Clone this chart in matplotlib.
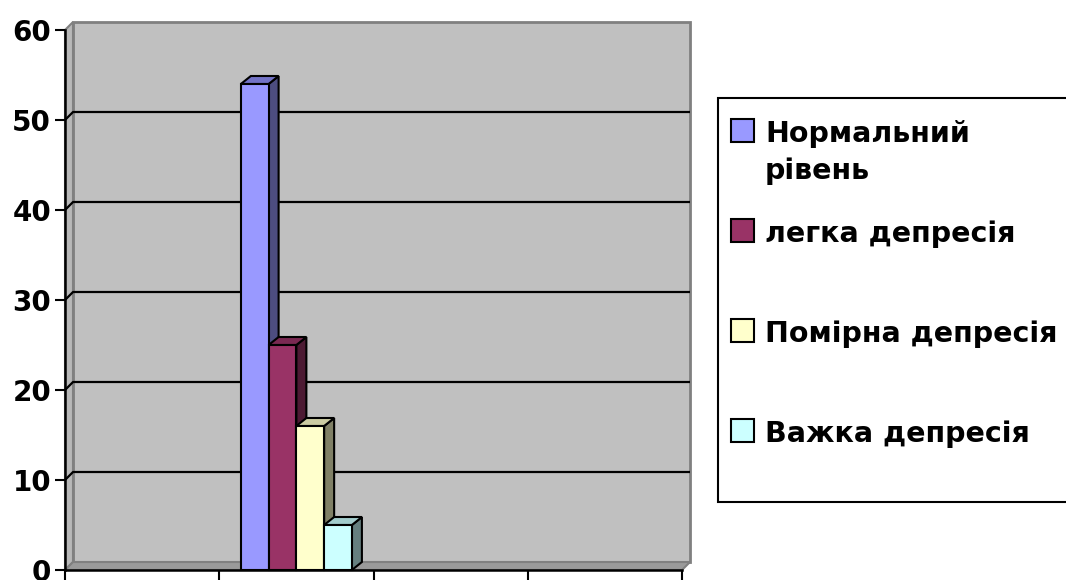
import textwrap
import matplotlib
matplotlib.use("Agg")
import matplotlib.pyplot as plt
from matplotlib.patches import Polygon, Rectangle

plt.rcParams['font.family'] = ['DejaVu Sans']

# ---- data ----
categories = ["", "", "", ""]
series_names = ["Нормальний рівень", "легка депресія", "Помірна депресія", "Важка депресія"]
normal_level = [None, 54, None, None]
mild_depression = [None, 25, None, None]
moderate_depression = [None, 16, None, None]
severe_depression = [None, 5, None, None]
y_ticks = [0, 10, 20, 30, 40, 50, 60]

series_values = [normal_level, mild_depression, moderate_depression, severe_depression]
front_colors = ["#9999FF", "#993366", "#FFFFCC", "#CCFFFF"]
side_colors = ["#4D4D80", "#4D1A33", "#808066", "#668080"]
top_colors = ["#7373C6", "#7A2952", "#CCCCA3", "#A3CCCC"]

W, H = 1066, 580
fig = plt.figure(figsize=(W / 100, H / 100), dpi=100)
fig.patch.set_facecolor("white")

ax_l, ax_r, ax_b, ax_t = 65, 682, 570, 30
ax = fig.add_axes([ax_l / W, (H - ax_b) / H, (ax_r - ax_l) / W, (ax_b - ax_t) / H])
ax.set_facecolor("none")
n_cat = len(categories)
ax.set_xlim(0, n_cat)
ax.set_ylim(y_ticks[0], y_ticks[-1])

ppx = (ax_r - ax_l) / n_cat          # pixels per category unit
ppy = (ax_b - ax_t) / (y_ticks[-1] - y_ticks[0])  # pixels per value unit

# wall depth
wdx, wdy = 8 / ppx, 8 / ppy
ymax = y_ticks[-1]

# back wall
ax.add_patch(Rectangle((wdx, wdy), n_cat, ymax, facecolor="#C0C0C0", edgecolor="#808080",
                       lw=2, clip_on=False, zorder=0))
# left wall
ax.add_patch(Polygon([(0, 0), (wdx, wdy), (wdx, ymax + wdy), (0, ymax)], closed=True,
                     facecolor="#B8B8B8", edgecolor="#808080", lw=1.5, clip_on=False, zorder=0.5))
# floor
ax.add_patch(Polygon([(0, 0), (n_cat, 0), (n_cat + wdx, wdy), (wdx, wdy)], closed=True,
                     facecolor="#9A9A9A", edgecolor="#808080", lw=1.5, clip_on=False, zorder=0.5))
# gridlines on back wall
for v in y_ticks[1:-1]:
    ax.plot([0, wdx, n_cat + wdx], [v, v + wdy, v + wdy], color="black", lw=1.6,
            clip_on=False, zorder=1, solid_capstyle="butt")

# bars
bw = 0.18
n_ser = len(series_values)
bdx, bdy = 10 / ppx, 8 / ppy
for s, vals in enumerate(series_values):
    z = 2 + s
    for c, v in enumerate(vals):
        if v is None:
            continue
        x0 = c + 0.5 - n_ser * bw / 2 + s * bw
        x1 = x0 + bw
        ax.bar(x0, v, width=bw, align="edge", color=front_colors[s], edgecolor="black",
               linewidth=1.5, zorder=z + 0.2, clip_on=False)
        ax.add_patch(Polygon([(x1, 0), (x1 + bdx, bdy), (x1 + bdx, v + bdy), (x1, v)], closed=True,
                             facecolor=side_colors[s], edgecolor="black", lw=1.5,
                             zorder=z, clip_on=False, joinstyle="miter"))
        ax.add_patch(Polygon([(x0, v), (x0 + bdx, v + bdy), (x1 + bdx, v + bdy), (x1, v)], closed=True,
                             facecolor=top_colors[s], edgecolor="black", lw=1.5,
                             zorder=z, clip_on=False, joinstyle="miter"))

# axes styling
for sp in ["top", "right"]:
    ax.spines[sp].set_visible(False)
for sp in ["left", "bottom"]:
    ax.spines[sp].set_color("black")
    ax.spines[sp].set_linewidth(1.8)
    ax.spines[sp].set_zorder(10)
ax.set_yticks(y_ticks)
ax.set_yticklabels([str(t) for t in y_ticks], fontsize=20, fontweight="bold")
ax.set_xticks(range(n_cat + 1))
ax.set_xticklabels([""] * (n_cat + 1))
ax.tick_params(axis="y", length=7, width=1.5, pad=3, direction="out")
ax.tick_params(axis="x", length=8, width=1.5, direction="out")

# legend (drawn manually in pixel space)
lax = fig.add_axes([0, 0, 1, 1], zorder=5)
lax.set_xlim(0, W)
lax.set_ylim(H, 0)
lax.axis("off")
lax.add_patch(Rectangle((718, 98), 400, 404, facecolor="white", edgecolor="black", lw=1.5, clip_on=False))
baselines = [142, 242, 342, 442]
for i, name in enumerate(series_names):
    b = baselines[i]
    lax.add_patch(Rectangle((731, b - 23), 23, 23, facecolor=front_colors[i], edgecolor="black", lw=1.5))
    lines = textwrap.wrap(name, 16)
    for j, line in enumerate(lines):
        lax.text(765, b + j * 37, line, fontsize=20.5, fontweight="bold", va="baseline", ha="left")

fig.savefig("out.png", dpi=100)
